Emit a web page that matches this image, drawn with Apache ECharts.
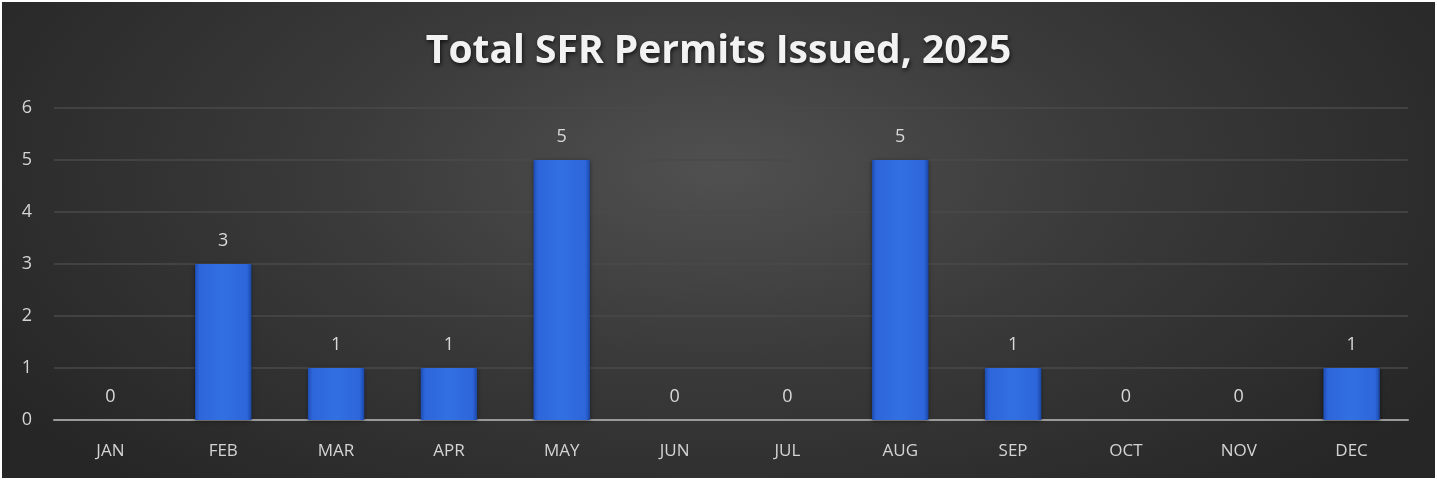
<!DOCTYPE html>
<html>
<head>
<meta charset="utf-8">
<script src="https://cdn.jsdelivr.net/npm/echarts@6/dist/echarts.min.js"></script>
<style>
  html, body { margin: 0; padding: 0; background: #fff; }
  #chart {
    position: absolute; left: 2px; top: 2px; width: 1433px; height: 476px;
    background: radial-gradient(ellipse 60% 90% at 50% 35%, #505050 0%, #3a3a3a 45%, #262626 100%);
  }
</style>
</head>
<body>
<div id="chart"></div>
<script>
// 月份
const months = ['JAN', 'FEB', 'MAR', 'APR', 'MAY', 'JUN', 'JUL', 'AUG', 'SEP', 'OCT', 'NOV', 'DEC']
// permits issued per month
const permits = [0, 3, 1, 1, 5, 0, 0, 5, 1, 0, 0, 1]
const yTicks = [0, 1, 2, 3, 4, 5, 6]

const barColor = new echarts.graphic.LinearGradient(0, 0, 1, 0, [
  { offset: 0, color: '#1d4db3' },
  { offset: 0.08, color: '#2d66da' },
  { offset: 0.5, color: '#3270e2' },
  { offset: 0.92, color: '#2d66da' },
  { offset: 1, color: '#1a46a6' }
])

// zero months: no shadow, so nothing is drawn at the baseline
let barData = permits.map(v => v === 0
  ? { value: v, itemStyle: { shadowBlur: 0, shadowOffsetY: 0, shadowColor: 'transparent' } }
  : v)

let myChart = echarts.init(document.getElementById('chart'))
myChart.setOption({
  animation: false,
  title: {
    text: 'Total SFR Permits Issued, 2025',
    left: 'center',
    top: 25,
    textStyle: {
      color: '#f2f2f2',
      fontFamily: 'Open Sans',
      fontWeight: 'bold',
      fontSize: 39,
      textShadowColor: 'rgba(0,0,0,0.7)',
      textShadowBlur: 4,
      textShadowOffsetX: 1,
      textShadowOffsetY: 2
    }
  },
  grid: {
    left: 52,
    right: 27,
    top: 106,
    bottom: 58
  },
  xAxis: {
    type: 'category',
    data: months,
    axisTick: { show: false },
    axisLine: { lineStyle: { color: '#9a9a9a', width: 2 } },
    axisLabel: {
      color: '#d4d4d4',
      fontFamily: 'Open Sans',
      fontSize: 17,
      margin: 23
    }
  },
  yAxis: {
    type: 'value',
    min: yTicks[0],
    max: yTicks[yTicks.length - 1],
    interval: 1,
    axisLine: { show: false },
    axisTick: { show: false },
    axisLabel: {
      color: '#d4d4d4',
      fontFamily: 'Open Sans',
      fontSize: 18,
      margin: 22
    },
    splitLine: { lineStyle: { color: '#4a4a4a', width: 1.5 } }
  },
  series: [{
    type: 'bar',
    data: barData,
    barWidth: '50%',
    itemStyle: {
      color: barColor,
      shadowColor: 'rgba(0,0,0,0.5)',
      shadowBlur: 4,
      shadowOffsetY: 1
    },
    label: {
      show: true,
      position: 'top',
      distance: 14,
      color: '#d9d9d9',
      fontFamily: 'Open Sans',
      fontSize: 18
    }
  }]
})
</script>
</body>
</html>
